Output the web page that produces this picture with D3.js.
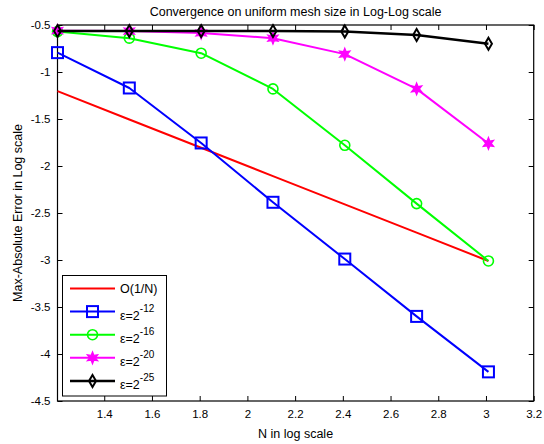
<!DOCTYPE html>
<html>
<head>
<meta charset="utf-8">
<script src="https://cdn.jsdelivr.net/npm/d3@7"></script>
<style>
  html, body { margin: 0; padding: 0; background: #fff; }
  svg text { font-family: "Liberation Sans", Arial, Helvetica, sans-serif; fill: #000; }
</style>
</head>
<body>
<svg id="chart" width="544" height="444"></svg>
<script>
// log10 of mesh sizes N = 16 ... 1024
const logN = [1.2041, 1.5051, 1.8062, 2.1072, 2.4082, 2.7093, 3.0103];

// log10 of max absolute error for each perturbation parameter
const refOrder = [-1.2041, -1.5051, -1.8062, -2.1072, -2.4082, -2.7093, -3.0103];
const eps12 = [-0.794, -1.17, -1.755, -2.386, -2.99, -3.60, -4.19];
const eps16 = [-0.57, -0.64, -0.80, -1.18, -1.78, -2.40, -3.01];
const eps20 = [-0.56, -0.565, -0.585, -0.64, -0.81, -1.18, -1.76];
const eps25 = [-0.565, -0.565, -0.565, -0.565, -0.57, -0.606, -0.70];

const xTicks = [1.4, 1.6, 1.8, 2, 2.2, 2.4, 2.6, 2.8, 3, 3.2];
const yTicks = [-0.5, -1, -1.5, -2, -2.5, -3, -3.5, -4, -4.5];

const series = [
  { label: "O(1/N)", exp: null, values: refOrder, color: "#ff0000", marker: "none", width: 2 },
  { label: "ε=2", exp: "-12", values: eps12, color: "#0000ff", marker: "square", width: 2 },
  { label: "ε=2", exp: "-16", values: eps16, color: "#00ff00", marker: "circle", width: 2 },
  { label: "ε=2", exp: "-20", values: eps20, color: "#ff00ff", marker: "star", width: 2 },
  { label: "ε=2", exp: "-25", values: eps25, color: "#000000", marker: "diamond", width: 2.5 }
];

const svg = d3.select("#chart");
const m = { left: 57.5, right: 533.7, top: 25, bottom: 401 };

const x = d3.scaleLinear().domain([1.2041, 3.2]).range([m.left, m.right]);
const y = d3.scaleLinear().domain([-4.5, -0.5]).range([m.bottom, m.top]);

const fmt = d => String(d);

// axes with inward ticks on all four sides
const tickLen = 5;
svg.append("g").attr("transform", `translate(0,${m.bottom})`)
  .call(d3.axisBottom(x).tickValues(xTicks).tickSizeInner(-tickLen).tickSizeOuter(0).tickPadding(9).tickFormat(fmt));
svg.append("g").attr("transform", `translate(0,${m.top})`)
  .call(d3.axisTop(x).tickValues(xTicks).tickSizeInner(-tickLen).tickSizeOuter(0).tickFormat(""));
svg.append("g").attr("transform", `translate(${m.left},0)`)
  .call(d3.axisLeft(y).tickValues(yTicks).tickSizeInner(-tickLen).tickSizeOuter(0).tickPadding(7).tickFormat(fmt));
svg.append("g").attr("transform", `translate(${m.right},0)`)
  .call(d3.axisRight(y).tickValues(yTicks).tickSizeInner(-tickLen).tickSizeOuter(0).tickFormat(""));

svg.selectAll(".domain").remove();
svg.selectAll(".tick line").attr("stroke", "#000").attr("stroke-width", 1);
svg.selectAll(".tick text").attr("font-size", 11.5).attr("fill", "#000")
  .style("font-family", "'Liberation Sans', Arial, sans-serif");

svg.append("rect")
  .attr("x", m.left).attr("y", m.top)
  .attr("width", m.right - m.left).attr("height", m.bottom - m.top)
  .attr("fill", "none").attr("stroke", "#000").attr("stroke-width", 1.2);

// marker drawing
function drawMarker(g, type, cx, cy, color) {
  if (type === "square") {
    g.append("rect").attr("x", cx - 5.5).attr("y", cy - 5.5).attr("width", 11).attr("height", 11)
      .attr("fill", "none").attr("stroke", color).attr("stroke-width", 2);
  } else if (type === "circle") {
    g.append("circle").attr("cx", cx).attr("cy", cy).attr("r", 5)
      .attr("fill", "none").attr("stroke", color).attr("stroke-width", 1.6);
  } else if (type === "star") {
    const pts = [];
    for (let i = 0; i < 12; i++) {
      const a = -Math.PI / 2 + i * Math.PI / 6;
      const r = i % 2 === 0 ? 6 : 2.8;
      pts.push([cx + r * Math.cos(a), cy + r * Math.sin(a)]);
    }
    g.append("polygon").attr("points", pts.map(p => p.join(",")).join(" "))
      .attr("fill", color).attr("stroke", color).attr("stroke-width", 1.2);
  } else if (type === "diamond") {
    g.append("polygon")
      .attr("points", [[cx, cy - 6], [cx + 3.5, cy], [cx, cy + 6], [cx - 3.5, cy]].map(p => p.join(",")).join(" "))
      .attr("fill", "none").attr("stroke", color).attr("stroke-width", 2);
  }
}

const line = d3.line().x(d => x(d[0])).y(d => y(d[1]));
const plot = svg.append("g");

series.forEach(s => {
  const pts = logN.map((n, i) => [n, s.values[i]]);
  plot.append("path").datum(pts).attr("d", line)
    .attr("fill", "none").attr("stroke", s.color).attr("stroke-width", s.width)
    .attr("stroke-linejoin", "round");
  if (s.marker !== "none") {
    const mg = plot.append("g");
    pts.forEach(p => drawMarker(mg, s.marker, x(p[0]), y(p[1]), s.color));
  }
});

// title and axis labels
svg.append("text").attr("x", (m.left + m.right) / 2).attr("y", 16)
  .attr("text-anchor", "middle").attr("font-size", 12.5)
  .text("Convergence on uniform mesh size in Log-Log scale");
svg.append("text").attr("x", (m.left + m.right) / 2).attr("y", 438)
  .attr("text-anchor", "middle").attr("font-size", 12.5)
  .text("N in log scale");
svg.append("text")
  .attr("transform", `translate(22,${(m.top + m.bottom) / 2}) rotate(-90)`)
  .attr("text-anchor", "middle").attr("font-size", 12.5)
  .text("Max-Absolute Error in Log scale");

// legend
const lg = svg.append("g");
lg.append("rect").attr("x", 62.5).attr("y", 275.5).attr("width", 104).attr("height", 120.5)
  .attr("fill", "#fff").attr("stroke", "#000").attr("stroke-width", 1);
series.forEach((s, i) => {
  const ly = 288.5 + i * 23.1;
  lg.append("line").attr("x1", 70).attr("x2", 115).attr("y1", ly).attr("y2", ly)
    .attr("stroke", s.color).attr("stroke-width", s.width);
  if (s.marker !== "none") drawMarker(lg, s.marker, 92.5, ly, s.color);
  const t = lg.append("text").attr("x", 120).attr("font-size", 12.5);
  if (s.exp === null) {
    t.attr("y", ly + 4.5).text(s.label);
  } else {
    t.attr("y", ly + 8);
    t.append("tspan").text(s.label);
    t.append("tspan").attr("dy", -8).attr("font-size", 10).text(s.exp);
  }
});
</script>
</body>
</html>
